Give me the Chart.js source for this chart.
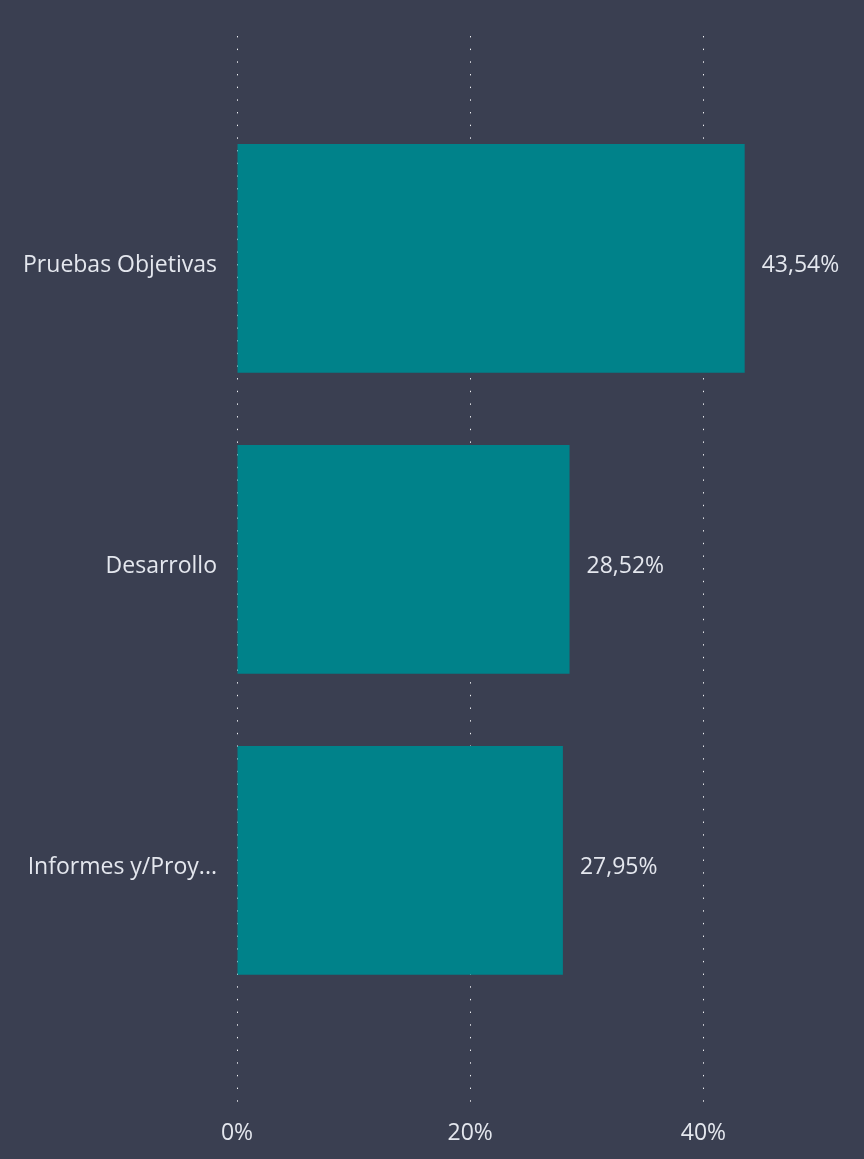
<!DOCTYPE html>
<html>
<head>
<meta charset="utf-8">
<script src="https://cdn.jsdelivr.net/npm/chart.js@4/dist/chart.umd.min.js"></script>
<style>
  html, body { margin: 0; padding: 0; background: #3a3f51; }
  #wrap { width: 864px; height: 1159px; position: relative; }
</style>
</head>
<body>
<div id="wrap"><canvas id="c"></canvas></div>
<script>
const categories = ["Pruebas Objetivas", "Desarrollo", "Informes y/Proy..."];
const values = [43.54, 28.52, 27.95];
const xTickValues = [0, 20, 40];

const FONT = '"Open Sans", "Noto Sans", sans-serif';
const TEXT = '#e4e7ee';

const fmt = v => v.toFixed(2).replace('.', ',') + '%';

const labelPlugin = {
  id: 'barLabels',
  afterDatasetsDraw(chart) {
    const ctx = chart.ctx;
    const meta = chart.getDatasetMeta(0);
    ctx.save();
    ctx.font = '23px ' + FONT;
    ctx.fillStyle = TEXT;
    ctx.textAlign = 'left';
    ctx.textBaseline = 'middle';
    meta.data.forEach((el, i) => {
      ctx.fillText(fmt(values[i]), el.x + 17, el.y + 7);
    });
    ctx.restore();
  }
};

new Chart(document.getElementById('c'), {
  type: 'bar',
  data: {
    datasets: [{
      data: values.map((v, i) => ({ x: v, y: i })),
      backgroundColor: '#00828a',
      borderWidth: 0,
      categoryPercentage: 1,
      barPercentage: 0.76
    }]
  },
  options: {
    indexAxis: 'y',
    responsive: true,
    maintainAspectRatio: false,
    animation: false,
    layout: { padding: { left: 20, top: 36, right: 44, bottom: 0 } },
    plugins: { legend: { display: false }, tooltip: { enabled: false } },
    scales: {
      x: {
        type: 'linear',
        min: 0,
        max: 50,
        afterBuildTicks: s => { s.ticks = xTickValues.map(v => ({ value: v })); },
        afterFit: s => { s.height = 52; },
        border: { display: false, dash: [1.4, 11.27] },
        grid: {
          color: '#f0f1f4',
          lineWidth: 1,
          drawTicks: false
        },
        ticks: {
          color: TEXT,
          font: { family: FONT, size: 23 },
          padding: 13,
          callback: v => v + '%'
        }
      },
      y: {
        type: 'linear',
        reverse: true,
        offset: false,
        min: -0.739,
        max: 2.819,
        afterBuildTicks: s => { s.ticks = categories.map((c, i) => ({ value: i })); },
        afterFit: s => { s.width = 217; },
        border: { display: false },
        grid: { display: false, drawTicks: false, offset: false },
        ticks: {
          color: TEXT,
          font: { family: FONT, size: 23 },
          padding: 20,
          labelOffset: 7,
          autoSkip: false,
          callback: v => categories[v]
        }
      }
    }
  },
  plugins: [labelPlugin]
});
</script>
</body>
</html>
